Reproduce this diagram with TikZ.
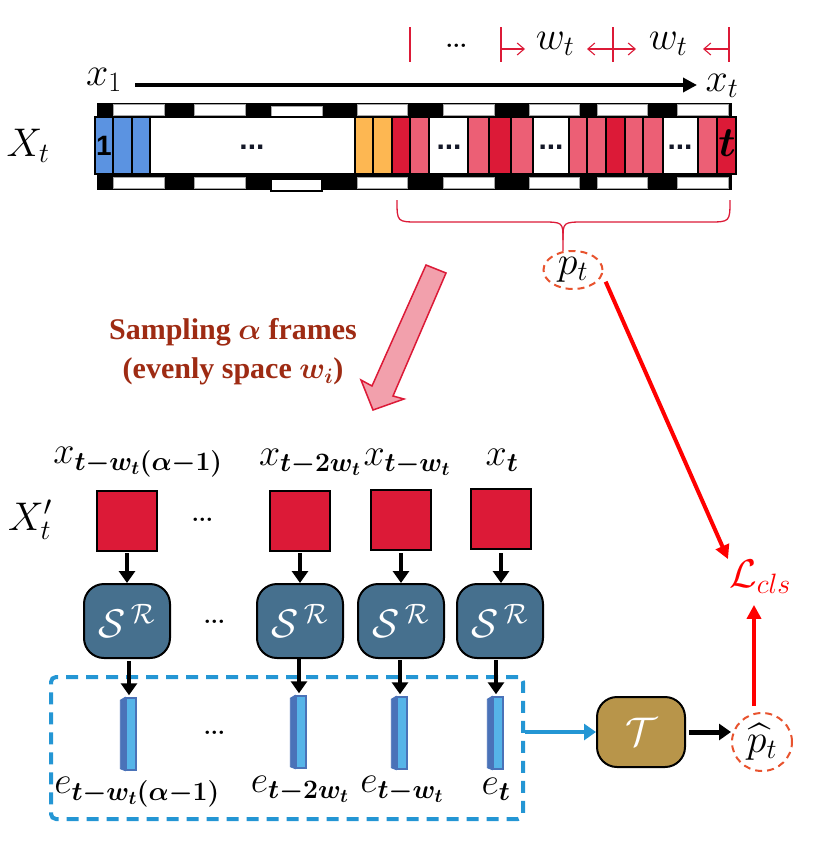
\RequirePackage{fix-cm}
\documentclass[tikz,border=0pt]{standalone}
\usepackage{amsmath,amssymb}
\usepackage{fontspec}
\newfontfamily\serifbf{Liberation Serif}
\newfontfamily\arialf{Liberation Sans}
\usetikzlibrary{arrows.meta,shapes.geometric,calc}
\definecolor{fblue}{RGB}{91,147,225}
\definecolor{forange}{RGB}{253,183,82}
\definecolor{fred}{RGB}{220,26,55}
\definecolor{fpink}{RGB}{236,95,117}
\definecolor{sboxc}{RGB}{70,112,142}
\definecolor{tboxc}{RGB}{184,149,74}
\definecolor{arrowpink}{RGB}{242,160,172}
\definecolor{dashor}{RGB}{232,83,46}
\definecolor{dashblue}{RGB}{36,150,212}
\definecolor{embfront}{RGB}{86,180,232}
\definecolor{embside}{RGB}{74,114,184}
\definecolor{samptext}{RGB}{158,43,19}
\definecolor{dotc}{RGB}{20,24,40}
\newcommand\lblsize{\fontsize{40}{44}\selectfont}
\newcommand\sublblsize{\fontsize{38}{42}\selectfont}
\newcommand\dotsz{\fontsize{42}{42}\selectfont}
\tikzset{
  lbl/.style={font=\lblsize, inner sep=1pt},
  sublbl/.style={font=\sublblsize, inner sep=1pt},
  framecell/.style={draw=black,line width=1.5pt},
  hole/.style={fill=white,draw=gray!70,line width=0.6pt},
  redsq/.style={draw=black,line width=2pt,fill=fred,minimum width=60pt,minimum height=60pt,inner sep=0pt},
  srbox/.style={draw=black,line width=2pt,fill=sboxc,rounded corners=20pt,minimum width=86pt,minimum height=74pt,text=white,font=\lblsize},
  tfbox/.style={draw=black,line width=2pt,fill=tboxc,rounded corners=20pt,minimum width=88pt,minimum height=70pt,text=white,font=\lblsize},
  embbar/.style={draw=embside,line width=1.5pt,fill=embfront,minimum width=10pt,minimum height=72pt,inner sep=0pt},
  blkarrow/.style={line width=4pt,-{Triangle[length=12pt,width=16pt]}},
  redarrow/.style={draw=red,line width=4pt,-{Triangle[length=14pt,width=14pt]}},
  bluearrow/.style={draw=dashblue,line width=4pt,-{Triangle[length=12pt,width=16pt]}},
  intarrow/.style={draw=fred,line width=1.1pt,-{Straight Barb[length=7pt,width=12pt]}},
  intline/.style={draw=fred,line width=1.3pt},
  dashell/.style={ellipse,draw=dashor,line width=2pt,dash pattern=on 7pt off 5pt,inner sep=0pt,font=\lblsize},
  dottxt/.style={font=\dotsz,anchor=base,inner sep=0pt},
  sqdots/.style={font=\arialf\bfseries\fontsize{30}{30}\selectfont,text=dotc,anchor=base,inner sep=0pt}
}
\begin{document}
\begin{tikzpicture}[x=1pt,y=-1pt]
\useasboundingbox (0,0) rectangle (830,852);

% ---------- film strip ----------
\fill[black] (97,103) rectangle (732,117);
\fill[black] (97,174) rectangle (732,190);
\foreach \a/\b in {113/164,194/245,357/407,443/494,529/579,597/647,677/728}{
  \filldraw[hole] (\a,104) rectangle (\b,115);
  \filldraw[hole] (\a,177) rectangle (\b,188);
}
\filldraw[hole] (271,106) rectangle (322,117);
\filldraw[fill=white,draw=black,line width=1.2pt] (271,179) rectangle (322,191);
\foreach \a/\b/\c in {95/113/fblue,113/132/fblue,132/150/fblue,150/355/white,
  355/373/forange,373/392/forange,392/410/fred,410/429/fpink,429/468/white,
  468/489/fpink,489/511/fred,511/533/fpink,533/569/white,569/587/fpink,
  587/606/fpink,606/625/fred,625/643/fpink,643/663/fpink,663/698/white,
  698/717/fpink,717/736/fred}{
  \filldraw[framecell,fill=\c] (\a,117) rectangle (\b,174);
}
\node[font=\arialf\bfseries\fontsize{28}{28}\selectfont,inner sep=0pt] (one) at (104,146) {1};
\node[font=\fontsize{42}{42}\selectfont,inner sep=0pt] (tlast) at (727,143) {$\boldsymbol{t}$};
\node[sqdots] (d1) at (252,149) {...};
\node[sqdots] (d2) at (449,149) {...};
\node[sqdots] (d3) at (551,149) {...};
\node[sqdots] (d4) at (680,149) {...};

% ---------- labels top ----------
\node[lbl] (xt0) at (28,146) {$X_t$};
\node[lbl] (x1) at (104,80) {$x_1$};
\node[lbl] (xt) at (722,86) {$x_t$};
\draw[line width=3.5pt,-{Triangle[length=14pt,width=14pt]}] (135,85) -- (697,85);

% interval marks
\foreach \n/\xx in {1/410,2/501,3/613,4/729}{
  \coordinate (mt\n) at (\xx,27);
  \coordinate (mb\n) at (\xx,62);
  \draw[intline] (mt\n) -- (mb\n);
}
\node[dottxt] (topdots) at (457,47) {\dots};
\node[lbl] (w1) at (555,44) {$w_t$};
\node[lbl] (w2) at (668,44) {$w_t$};
\coordinate (a2) at (501,49);
\coordinate (a3) at (613,49);
\coordinate (a4) at (729,49);
\draw[intarrow] (a2) -- ++(24,0);
\draw[intarrow] (a3) -- ++(-26,0);
\draw[intarrow] (a3) -- ++(23,0);
\draw[intarrow] (a4) -- ++(-26,0);

% brace and p_t
\node[dashell,minimum width=59pt,minimum height=38pt] (pt) at (573,270) {$p_t$};
\draw[intline] (397,200) .. controls (397,222) .. (419,222) -- (541,222) .. controls (563,222) .. (563,240) -- (563,251);
\draw[intline] (730,200) .. controls (730,222) .. (708,222) -- (585,222) .. controls (563,222) .. (563,240);

% sampling arrow and text
\filldraw[fill=arrowpink,draw=fred,line width=1.5pt,line join=miter]
  (426,265) -- (446,273) -- (393,396) -- (404,399) -- (373,410) -- (361,380) -- (372,386) -- cycle;
\node[font=\serifbf\bfseries\fontsize{30}{39}\selectfont,text=samptext,align=center,inner sep=0pt] (samp) at (233,352)
  {Sampling $\boldsymbol{\alpha}$ frames\\(evenly space $\boldsymbol{w_i}$)};

% ---------- lower part ----------
\node[lbl] (xp) at (30,520) {$X'_t$};

\node[sublbl] (lx1) at (138,462) {$x_{\boldsymbol{t-w_t(\alpha-1)}}$};
\node[sublbl] (lx2) at (310,462) {$x_{\boldsymbol{t-2w_t}}$};
\node[sublbl] (lx3) at (407,462) {$x_{\boldsymbol{t-w_t}}$};
\node[sublbl] (lx4) at (502,460) {$x_{\boldsymbol{t}}$};

\node[redsq] (q1) at (127,521) {};
\node[redsq] (q2) at (300,521) {};
\node[redsq] (q3) at (401,520) {};
\node[redsq] (q4) at (501,519) {};
\node[dottxt] (qd) at (203,521) {\dots};

\node[srbox] (s1) at (127,621) {$\mathcal{S}^{\,\mathcal{R}}$};
\node[srbox] (s2) at (300,621) {$\mathcal{S}^{\,\mathcal{R}}$};
\node[srbox] (s3) at (401,621) {$\mathcal{S}^{\,\mathcal{R}}$};
\node[srbox] (s4) at (500,621) {$\mathcal{S}^{\,\mathcal{R}}$};
\node[dottxt] (sd) at (215,623) {\dots};

\foreach \i in {1,...,4}{ \draw[blkarrow] (q\i.south |- 0,553) -- (q\i.south |- 0,583); }

\node[draw=dashblue,line width=4pt,dash pattern=on 12pt off 8pt,rounded corners=5pt,
  minimum width=472pt,minimum height=142pt] (box) at (287,748) {};

\node[embbar] (e1) at (131,734) {};
\node[embbar] (e2) at (301,732) {};
\node[embbar] (e3) at (402,733) {};
\node[embbar] (e4) at (498,733) {};
\foreach \i in {1,...,4}{
  \filldraw[fill=embside,draw=embside,line width=0.8pt] (e\i.north west) -- ++(-5,3) -- ($(e\i.south west)+(-5,-2)$) -- (e\i.south west) -- cycle;
  \draw[blkarrow] ($(e\i.north)+(-2,-36)$) -- ($(e\i.north)+(-2,-2)$);
}
\node[dottxt] (ed) at (215,734) {\dots};

\node[sublbl] (le1) at (137,792) {$e_{\boldsymbol{t-w_t(\alpha-1)}}$};
\node[sublbl] (le2) at (300,789) {$e_{\boldsymbol{t-2w_t}}$};
\node[sublbl] (le3) at (402,789) {$e_{\boldsymbol{t-w_t}}$};
\node[sublbl] (le4) at (496,789) {$e_{\boldsymbol{t}}$};

\node[tfbox] (T) at (641,732) {$\mathcal{T}$};
\node[dashell,minimum width=60pt,minimum height=58pt] (ph) at (762,742) {$\widehat{p}_t$};
\node[lbl,text=red] (L) at (760,577) {$\mathcal{L}_{cls}$};

\draw[bluearrow] (T.west -| box.east) -- (T.west);
\draw[blkarrow,line width=5pt] (T.east) ++(3,0) -- (ph.west |- T.east);
\draw[redarrow] (pt.-20) ++(6,2) -- (L.north west);
\draw[redarrow] (ph.north) ++(-8,-6) -- ($(L.south)+(-6,10)$);
\end{tikzpicture}
\end{document}
